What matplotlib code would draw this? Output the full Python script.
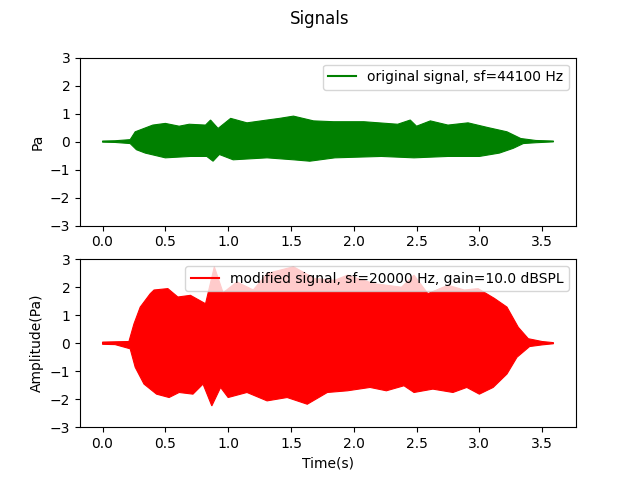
import numpy as np
import matplotlib
matplotlib.use('Agg')
from matplotlib import pyplot as plt
from matplotlib.lines import Line2D

# envelope of the original signal, time in s, pressure in Pa
orig_t_up = [0.0, 0.10, 0.22, 0.26, 0.40, 0.50, 0.61, 0.69, 0.82, 0.86, 0.92, 1.02, 1.15, 1.31, 1.41,
             1.52, 1.68, 1.84, 2.08, 2.35, 2.45, 2.50, 2.61, 2.75, 2.91, 3.07, 3.22, 3.33, 3.45, 3.59]
orig_up = [0.02, 0.03, 0.07, 0.35, 0.59, 0.65, 0.55, 0.62, 0.59, 0.77, 0.47, 0.83, 0.67, 0.77, 0.83,
           0.91, 0.74, 0.71, 0.71, 0.62, 0.77, 0.55, 0.74, 0.59, 0.67, 0.50, 0.35, 0.11, 0.04, 0.02]
orig_t_lo = [0.0, 0.10, 0.22, 0.27, 0.34, 0.50, 0.70, 0.83, 0.88, 0.93, 1.04, 1.31, 1.52, 1.65, 1.85,
             2.22, 2.48, 2.75, 3.00, 3.16, 3.27, 3.35, 3.45, 3.59]
orig_lo = [-0.02, -0.03, -0.07, -0.29, -0.41, -0.58, -0.53, -0.53, -0.70, -0.46, -0.65, -0.58, -0.65,
           -0.70, -0.58, -0.53, -0.58, -0.53, -0.53, -0.41, -0.24, -0.07, -0.04, -0.01]

# envelope of the modified signal
mod_t_up = [0.0, 0.10, 0.21, 0.25, 0.30, 0.38, 0.41, 0.52, 0.60, 0.70, 0.82, 0.89, 0.96, 1.07, 1.20, 1.31,
            1.52, 1.69, 1.85, 1.95, 2.16, 2.38, 2.48, 2.59, 2.75, 2.88, 2.99, 3.12, 3.22, 3.31, 3.39, 3.50, 3.59]
mod_up = [0.04, 0.05, 0.06, 0.69, 1.29, 1.77, 1.90, 1.95, 1.65, 1.71, 1.41, 2.73, 1.80, 2.19, 1.90, 2.49,
          2.73, 2.31, 2.25, 2.43, 2.13, 2.00, 2.43, 1.77, 2.07, 1.90, 1.95, 1.60, 1.29, 0.57, 0.16, 0.06, 0.02]
mod_t_lo = [0.0, 0.10, 0.22, 0.26, 0.33, 0.43, 0.53, 0.61, 0.72, 0.80, 0.87, 0.94, 1.00, 1.15, 1.31, 1.47,
            1.63, 1.79, 1.95, 2.13, 2.26, 2.40, 2.48, 2.63, 2.79, 2.90, 3.00, 3.11, 3.22, 3.30, 3.40, 3.50, 3.59]
mod_lo = [-0.04, -0.05, -0.20, -0.86, -1.46, -1.82, -1.94, -1.76, -1.82, -1.46, -2.24, -1.58, -1.94, -1.76,
          -2.06, -1.94, -2.18, -1.76, -1.70, -1.58, -1.70, -1.52, -1.76, -1.64, -1.76, -1.58, -1.82, -1.58,
          -1.10, -0.50, -0.12, -0.06, -0.02]

orig_label = 'original signal, sf=44100 Hz'
mod_label = 'modified signal, sf=20000 Hz, gain=10.0 dBSPL'


def draw_envelope(ax, t_up, up, t_lo, lo, color, label):
    xs = np.concatenate([t_up, t_lo[::-1]])
    ys = np.concatenate([up, lo[::-1]])
    ax.fill(xs, ys, color=color, linewidth=0.8)
    ax.margins(x=0.05)
    handle = Line2D([], [], color=color, label=label)
    ax.legend(handles=[handle], loc='upper right')


fig, (ax1, ax2) = plt.subplots(2, 1, figsize=(6.4, 4.8), dpi=100)
fig.suptitle('Signals')

draw_envelope(ax1, orig_t_up, orig_up, orig_t_lo, orig_lo, 'green', orig_label)
ax1.set_ylim(-3, 3)
ax1.set_ylabel('Pa')

draw_envelope(ax2, mod_t_up, mod_up, mod_t_lo, mod_lo, 'red', mod_label)
ax2.set_ylim(-3, 3)
ax2.set_ylabel('Amplitude(Pa)')
ax2.set_xlabel('Time(s)')

fig.savefig('out.png')
